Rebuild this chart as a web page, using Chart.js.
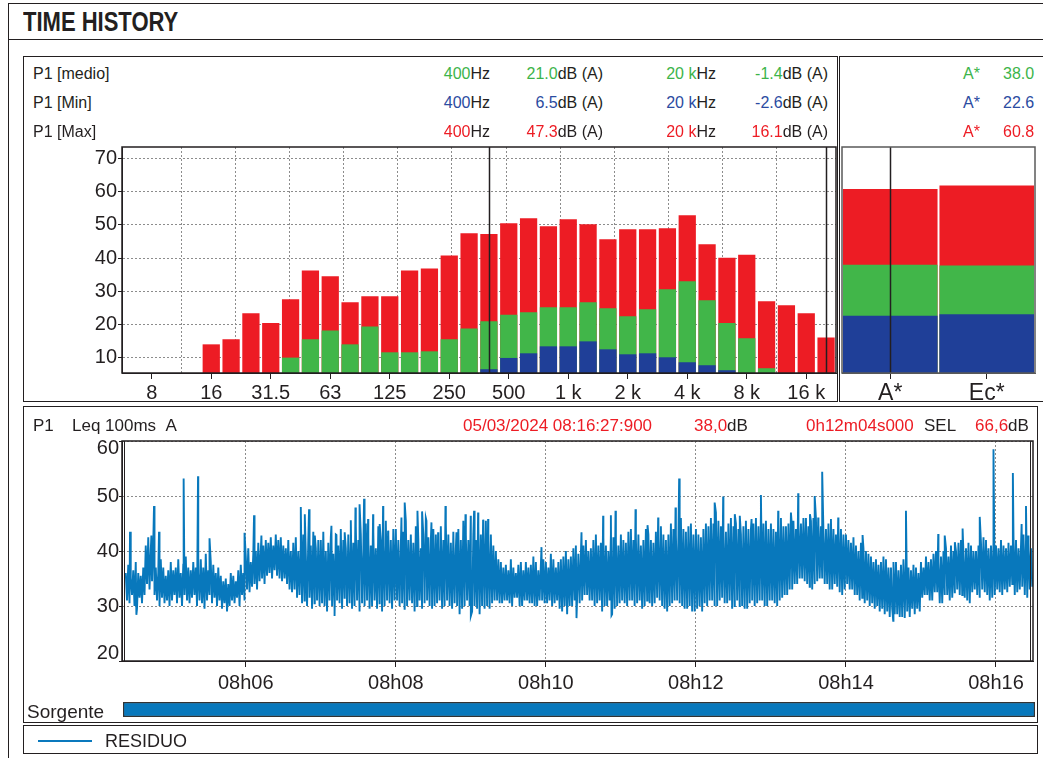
<!DOCTYPE html>
<html>
<head>
<meta charset="utf-8">
<title>Time history</title>
<script src="https://cdn.jsdelivr.net/npm/chart.js@4.4.1/dist/chart.umd.min.js"></script>
<style>
  body { margin: 0; background: #fff; }
  #page { position: relative; width: 1043px; height: 758px; overflow: hidden;
          font-family: "Liberation Sans", Arial, sans-serif; color: #231f20; }
  .box { position: absolute; border: 1px solid #231f20; box-sizing: border-box; }
  .txt { position: absolute; white-space: nowrap; line-height: 1; font-size: 16px; }
  canvas { position: absolute; }
  .g { color: #3cb44a; }
  .b { color: #2b4ba1; }
  .m { color: #ed1c24; }
</style>
</head>
<body>
<div id="page">
  <div class="box" style="left:8px;top:3px;width:1100px;height:800px;border-width:1.5px"></div>
  <div class="box" style="left:8px;top:39px;width:1100px;height:0;border-width:1px 0 0 0"></div>
  <div class="txt" style="left:23px;top:9px;font-weight:bold;font-size:27px;transform:scaleX(0.815);transform-origin:0 0">TIME HISTORY</div>

  <div class="box" style="left:23px;top:56px;width:815px;height:346px"></div>
  <div class="box" style="left:839px;top:56px;width:220px;height:346px"></div>
  <div class="box" style="left:23px;top:406px;width:1015px;height:317px"></div>
  <div class="box" style="left:23px;top:725px;width:1015px;height:29px"></div>

  <canvas id="spectrum" width="800" height="274" style="left:40px;top:134px"></canvas>
  <canvas id="bands" width="207" height="268" style="left:836px;top:140px"></canvas>
  <canvas id="history" width="1000" height="274" style="left:40px;top:426px"></canvas>
  <canvas id="source" width="1000" height="19" style="left:40px;top:700px"></canvas>

  <div class="txt" style="left:33px;top:417px;font-size:17px">P1</div>
  <div class="txt" style="left:72px;top:417px;font-size:17px">Leq 100ms&nbsp;&nbsp;A</div>
  <div class="txt m" style="left:463px;top:417px;font-size:17px">05/03/2024 08:16:27:900</div>
  <div class="txt" style="left:694px;top:417px;font-size:17px"><span class="m">38,0</span>dB</div>
  <div class="txt m" style="left:806px;top:417px;font-size:17px">0h12m04s000</div>
  <div class="txt" style="left:924px;top:417px;font-size:17px">SEL</div>
  <div class="txt" style="left:975px;top:417px;font-size:17px"><span class="m">66,6</span>dB</div>

  <div class="txt" style="left:27px;top:702px;font-size:19px">Sorgente</div>
  <div style="position:absolute;left:38px;top:740px;width:54px;height:2px;background:#0a79bd"></div>
  <div class="txt" style="left:105px;top:732px;font-size:18px">RESIDUO</div>
</div>

<script>
// 1/3 octave bands, 6.3 Hz .. 20 kHz
var bandFreqs = ['6.3', '8', '10', '12.5', '16', '20', '25', '31.5', '40', '50', '63', '80',
    '100', '125', '160', '200', '250', '315', '400', '500', '630', '800', '1 k', '1.25 k',
    '1.6 k', '2 k', '2.5 k', '3.15 k', '4 k', '5 k', '6.3 k', '8 k', '10 k', '12.5 k', '16 k', '20 k'];
var shownFreqs = ['8', '16', '31.5', '63', '125', '250', '500', '1 k', '2 k', '4 k', '8 k', '16 k'];

var specMax = [null, null, null, null, 14.0, 15.5, 23.4, 20.4, 27.6, 36.3, 34.5, 26.7,
    28.5, 28.5, 36.3, 36.9, 40.8, 47.5, 47.3, 50.5, 52.0, 49.6, 51.7, 50.2,
    45.7, 48.7, 48.7, 49.0, 52.9, 44.2, 40.1, 41.0, 27.0, 25.8, 23.4, 16.1];
var specMedio = [null, null, null, null, null, null, null, null, 10.0, 15.5, 18.2, 14.0,
    19.4, 11.6, 11.6, 11.9, 15.5, 18.8, 21.0, 22.9, 23.7, 25.2, 25.2, 26.7,
    24.9, 22.5, 24.6, 30.6, 33.0, 27.3, 20.4, 15.8, 6.8, null, null, -1.4];
var specMin = [null, null, null, null, null, null, null, null, null, null, null, null,
    null, null, null, null, null, null, 6.5, 9.9, 11.3, 13.4, 13.4, 14.9,
    12.5, 11.0, 11.3, 10.1, 8.6, 7.7, 6.2, null, null, null, null, -2.6];

var specYTicks = [10, 20, 30, 40, 50, 60, 70];
var octaveEdges = [2.5, 5.5, 8.5, 11.5, 14.5, 17.5, 20.5, 23.5, 26.5, 29.5, 32.5];

// global weighted values
var totalNames = ['A*', 'Ec*'];
var totalMax = [60.8, 61.9];
var totalMedio = [38.0, 37.8];
var totalMin = [22.6, 23.1];

// Leq 100ms history, seconds after 08:00:00; upper / lower reading every 2 s
var leqStart = 264;
var leqStep = 2;
var leqHigh = [
    // 08h04m24 ..
    36, 37.5, 35, 36.5, 38, 36, 35.5, 37, 41, 42.5, 40, 41.5, 37, 36, 38.5, 37, 35.5, 36.5,
    // 08h05
    38, 36.5, 37, 38.5, 36, 37.5, 39, 37, 36.5, 38, 37, 36, 38.5, 37, 39.5,
    36.5, 38, 37.5, 36, 37, 35.5, 34.5, 35, 34, 36, 35.5, 34.5, 36.5, 37.5, 36,
    // 08h06
    39, 40.5, 38, 39.5, 40, 41.5, 40, 41, 42, 41.5, 42.5, 41, 43, 42, 42.5,
    41, 40.5, 42, 40, 41.5, 42.5, 40, 41, 43, 39.5, 42, 41, 43.5, 40.5, 42,
    // 08h07
    42, 43.5, 40, 41.5, 42.5, 39.5, 43, 41, 44, 42, 40.5, 43, 42, 41.5, 44.5,
    42, 43, 40, 45, 42.5, 41, 43.5, 40.5, 44.5, 42, 41, 45.5, 43, 42, 44,
    // 08h08
    44, 42, 41, 43.5, 45.5, 42, 43, 41.5, 44.5, 42, 40.5, 43, 46, 42.5, 42,
    44, 43, 41, 44.5, 42, 45, 43, 41.5, 43.5, 40.5, 44, 42, 45.5, 43, 42,
    // 08h09
    45, 43, 42, 44.5, 43, 44, 45.5, 42, 43, 41, 40, 38.5, 38, 37, 37.5,
    36.5, 38.5, 37, 36, 37.5, 38, 36.5, 38, 37, 37.5, 39, 38, 36.5, 37.5, 38.5,
    // 08h10
    38, 37, 39.5, 38.5, 37, 38, 38.5, 39, 40, 38.5, 39, 40.5, 41, 39.5, 39.5,
    41, 42, 40, 40.5, 42, 43, 41, 41.5, 42.5, 41, 40, 43, 42.5, 42, 41,
    // 08h11
    43, 42, 41.5, 43.5, 44, 42, 42.5, 43, 41, 42, 44, 43, 42, 41.5, 43.5,
    42.5, 44.5, 43, 42, 43, 45, 44, 43, 42.5, 46, 44, 43.5, 44.5, 45, 43,
    // 08h12
    44, 43, 42.5, 44, 45, 44.5, 46, 45, 47, 45.5, 44.5, 43.5, 43.5, 45, 46,
    44.5, 45, 44, 43, 44.5, 45.5, 44, 44, 45, 46, 44.5, 47, 45, 45.5, 44,
    // 08h13
    45, 44, 43.5, 45, 46, 44.5, 44.5, 45, 47, 45.5, 44, 45, 45, 46, 46,
    44.5, 45.5, 46, 46, 45, 44.5, 43.5, 44, 45, 45, 44, 43, 44.5, 44, 43,
    // 08h14
    43, 42, 41.5, 42.5, 41, 40, 41.5, 40.5, 40, 39.5, 39, 38, 38.5, 37.5, 38,
    39, 38.5, 37, 37, 38, 38, 36.5, 37.5, 38.5, 38.5, 37, 36.5, 37.5, 37, 36,
    // 08h15
    38, 37, 39, 38, 38.5, 39.5, 40, 38, 39, 40, 40.5, 39, 41, 40, 40,
    41.5, 42, 39.5, 40.5, 41.5, 41, 40, 40, 41, 41.5, 42.5, 42, 40.5, 41, 41.5,
    // 08h16
    41, 40.5, 42, 41, 40.5, 41.5, 41, 42.5, 42, 40.5, 41, 43, 42, 41.5, 40.5
];
var leqLow = [
    // 08h04m24 ..
    31, 30.5, 32, 30, 29.5, 31.5, 30.5, 32, 34, 33, 34.5, 32, 31, 30, 31.5, 30.5, 31, 30,
    // 08h05
    31, 32, 30.5, 31.5, 30, 32, 31, 30.5, 31.5, 32, 30, 31, 30.5, 29.5, 31,
    32, 30.5, 31.5, 30, 31, 29.5, 30.5, 29, 30, 31, 30.5, 31.5, 30, 32, 31,
    // 08h06
    33, 32.5, 33.5, 34, 33, 34.5, 35, 34, 35.5, 36, 35, 36.5, 35.5, 35, 34.5,
    35, 34, 33, 32.5, 33, 31.5, 32, 30.5, 31, 30, 31.5, 29.5, 30.5, 31, 30,
    // 08h07
    30.5, 30, 29, 31, 30, 29.5, 31, 30.5, 29.5, 31.5, 30, 30.5, 29.5, 30, 31,
    29, 30.5, 30, 31, 29.5, 30, 31, 29.5, 30.5, 29, 30, 31, 30.5, 29.5, 31,
    // 08h08
    31, 30, 30.5, 29.5, 30, 31, 30.5, 29, 30, 31, 29.5, 30.5, 31, 30, 29.5,
    30, 30.5, 31, 29.5, 30, 31, 30, 29.5, 30.5, 30, 28.5, 29.5, 30, 31, 30,
    // 08h09
    29, 30, 29.5, 28.5, 30, 29.5, 30, 29.5, 30.5, 31, 31, 30.5, 30.5, 31, 31,
    30.5, 30, 31.5, 31.5, 30, 30, 31, 31, 30.5, 30.5, 30, 30, 31, 31, 30.5,
    // 08h10
    30.5, 31, 30, 30.5, 31, 29.5, 29, 30, 28.5, 30, 30, 31, 31.5, 30.5, 31,
    32, 32, 31, 31, 30, 30.5, 31, 29, 30, 30, 31, 28.5, 29.5, 30, 30.5,
    // 08h11
    31, 30.5, 30, 31, 31, 30, 30.5, 31, 29.5, 30, 31, 30.5, 30, 30.5, 31.5,
    31, 30, 29.5, 29, 30, 30.5, 31, 31, 30.5, 30, 29.5, 29.5, 30, 29, 29.5,
    // 08h12
    29.5, 30, 29, 30.5, 30, 31, 31, 30, 30, 31, 31.5, 30.5, 30.5, 31, 29.5,
    30, 31, 30, 30, 29.5, 29.5, 30.5, 31, 30, 30.5, 31, 31, 30, 30, 31,
    // 08h13
    31, 30.5, 30, 31, 31.5, 32, 32, 33, 33, 34, 34, 35, 35, 34.5, 34,
    33.5, 33, 34, 34.5, 35, 35, 34, 34, 33, 33, 34, 33.5, 32.5, 32, 33,
    // 08h14
    34, 33, 33, 32, 32, 31, 31.5, 30.5, 31, 30, 30.5, 29.5, 30, 29, 29.5,
    28.5, 29, 28, 29.5, 28.5, 28.5, 28, 28, 29, 29, 28, 29.5, 28.5, 29.5, 29,
    // 08h15
    31.5, 32, 32, 31, 31, 32.5, 32.5, 30.5, 30.5, 32, 32, 31, 31.5, 32.5, 33,
    32, 32, 31.5, 31, 30.5, 32.5, 33, 32, 31.5, 33, 32.5, 32, 31, 31.5, 32,
    // 08h16
    33, 32.5, 32, 33, 32.5, 33.5, 34, 32, 32.5, 33, 33.5, 32, 31.5, 33, 33.5
];
var leqPeaks = [
    [267.4, 43.5], [284.5, 42.8], [286.6, 48.2], [290.6, 43.5], [310.3, 53.2], [321.8, 53.6],
    [331, 42.3], [359, 43.3], [366.6, 46.5], [372.5, 42.8], [404, 48], [407.2, 46.7],
    [410.6, 47.6], [415.2, 42.8], [428.5, 44.6], [432.5, 42.9], [439.1, 43.4], [444, 45.6],
    [447.7, 47.9], [451, 48.5], [454.6, 49.5], [457.8, 45.8], [461.8, 46.7], [467.1, 44.9],
    [469.8, 48.2], [473.8, 43.7], [484.5, 46.1], [487.1, 48.8], [497.3, 47.3], [501, 47.2],
    [504.5, 45.5], [508.5, 45.2], [513.8, 43.4], [519.7, 48.2], [528.5, 43.4], [535.7, 46.7],
    [539.9, 46.4], [542.6, 47.3], [545.8, 47], [549.8, 45.7], [553.8, 45.8], [596.5, 40.7],
    [628.5, 43.4], [645.8, 46.4], [652, 46.5], [655.7, 47.3], [671.7, 47.6], [681.3, 44.7],
    [689.8, 46.1], [703.7, 47.9], [706.6, 53.2], [735, 48.8], [741.8, 49.9], [751.1, 46.7],
    [755.1, 46.4], [764.5, 45.8], [772, 50.2], [785.8, 47.3], [796.5, 45.3], [801.8, 50.5],
    [811.2, 46.7], [815, 50], [817.8, 46.1], [821, 54.4], [828, 45.8], [833.8, 46.1],
    [853.3, 42.9], [888, 47.3], [913.8, 43.1], [919, 42.8], [927.1, 41.6], [933.3, 44.1],
    [947, 46.2], [958, 58.5], [973.5, 54.2], [980.5, 44.9], [984, 48.2], [985.8, 42.8]
];
var leqDips = [
    [272.5, 28.4], [431, 28.2], [540, 28.2], [624.5, 27.8], [652.5, 28.3], [719, 29],
    [877.8, 27.3], [887, 27.8]
];
var timeTicks = [360, 480, 600, 720, 840, 960];
var timeYTicks = [20, 30, 40, 50, 60];
var timeRange = [261, 989.6];

var RED = '#ed1c24';
var GREEN = '#41b649';
var BLUE = '#1f3f98';
var LINE = '#0878bc';
var INK = '#231f20';

Chart.defaults.font.family = "'Liberation Sans', Arial, sans-serif";
Chart.defaults.color = INK;

/*
############################## Header texts ##############################
*/
var page = document.getElementById('page');

function put(html, side, x, top, size) {
    var el = document.createElement('div');
    el.className = 'txt';
    el.innerHTML = html;
    el.style.top = top + 'px';
    if (size) el.style.fontSize = size + 'px';
    if (side === 'right') el.style.right = (1043 - x) + 'px';
    else el.style.left = x + 'px';
    page.appendChild(el);
}

var cursorA = 18, cursorB = 35;
var headerRows = [
    { name: 'P1 [medio]', cls: 'g', data: specMedio, total: totalMedio },
    { name: 'P1 [Min]', cls: 'b', data: specMin, total: totalMin },
    { name: 'P1 [Max]', cls: 'm', data: specMax, total: totalMax }
];
headerRows.forEach((row, k) => {
    let top = 66 + k * 29;
    put(row.name, 'left', 33, top);
    put('<span class="' + row.cls + '">' + bandFreqs[cursorA] + '</span>Hz', 'right', 490, top);
    put('<span class="' + row.cls + '">' + row.data[cursorA].toFixed(1) + '</span>dB (A)', 'right', 603, top);
    put('<span class="' + row.cls + '">' + bandFreqs[cursorB] + '</span>Hz', 'right', 716, top);
    put('<span class="' + row.cls + '">' + row.data[cursorB].toFixed(1) + '</span>dB (A)', 'right', 828, top);
    put('<span class="' + row.cls + '">' + totalNames[0] + '</span>', 'right', 980, top);
    put('<span class="' + row.cls + '">' + row.total[0].toFixed(1) + '</span>', 'left', 1003, top);
});

/*
############################## Plugins ##############################
*/
var framePlugin = {
    id: 'frame',
    afterDraw(chart, args, opts) {
        let ctx = chart.ctx;
        let a = chart.chartArea;
        ctx.save();
        (opts.cursors || []).forEach(i => {
            let x = Math.round(chart.scales.x.getPixelForValue(i)) + 0.5;
            ctx.strokeStyle = INK;
            ctx.lineWidth = 1.5;
            ctx.beginPath();
            ctx.moveTo(x, a.top);
            ctx.lineTo(x, a.bottom);
            ctx.stroke();
        });
        ctx.strokeStyle = opts.color || INK;
        ctx.lineWidth = opts.width || 1.5;
        ctx.strokeRect(a.left, a.top, a.right - a.left, a.bottom - a.top);
        if (opts.double) {
            ctx.lineWidth = 1;
            ctx.beginPath();
            ctx.moveTo(a.left + 2.5, a.top);
            ctx.lineTo(a.left + 2.5, a.bottom);
            ctx.moveTo(a.right - 2.5, a.top);
            ctx.lineTo(a.right - 2.5, a.bottom);
            ctx.stroke();
        }
        ctx.restore();
    }
};

function barSets(minData, medioData, maxData) {
    return [
        { label: 'Min', data: minData, backgroundColor: BLUE, clip: 0 },
        { label: 'medio', data: medioData, backgroundColor: GREEN, clip: 0 },
        { label: 'Max', data: maxData, backgroundColor: RED, clip: 0 }
    ];
}

/*
############################## Spectrum ##############################
*/
function draw_spectrum() {
    return new Chart(document.getElementById('spectrum'), {
        type: 'bar',
        data: { labels: bandFreqs, datasets: barSets(specMin, specMedio, specMax) },
        options: {
            responsive: false,
            animation: false,
            devicePixelRatio: 1,
            layout: { padding: { top: 0, right: 4, left: 0, bottom: 0 } },
            datasets: { bar: { categoryPercentage: 1, barPercentage: 0.87 } },
            plugins: {
                legend: { display: false },
                tooltip: { enabled: false },
                frame: { cursors: [cursorA, cursorB] }
            },
            scales: {
                x: {
                    stacked: true,
                    afterBuildTicks: s => { s.ticks = s.ticks.filter(t => shownFreqs.includes(bandFreqs[t.value])); },
                    ticks: { autoSkip: false, maxRotation: 0, font: { size: 20 }, padding: 2 },
                    grid: { drawOnChartArea: false, offset: false, tickLength: 6, color: INK },
                    border: { color: INK },
                    afterFit: s => { s.height = 35; }
                },
                xg: {
                    type: 'linear',
                    position: 'bottom',
                    min: -0.5,
                    max: 35.5,
                    afterBuildTicks: s => { s.ticks = octaveEdges.map(v => ({ value: v })); },
                    ticks: { display: false },
                    grid: { color: '#8c8c8c', drawTicks: false },
                    border: { display: false, dash: [2, 2] },
                    afterFit: s => { s.height = 0; }
                },
                y: {
                    min: 5.36,
                    max: 73.5,
                    afterBuildTicks: s => { s.ticks = specYTicks.map(v => ({ value: v })); },
                    ticks: { font: { size: 20 }, padding: 1 },
                    grid: { color: '#8c8c8c', tickColor: INK, tickLength: 4 },
                    border: { color: INK, dash: [2, 2] },
                    afterFit: s => { s.width = 82; }
                }
            }
        },
        plugins: [framePlugin]
    });
}

function draw_totals() {
    return new Chart(document.getElementById('bands'), {
        type: 'bar',
        data: { labels: totalNames, datasets: barSets(totalMin, totalMedio, totalMax) },
        options: {
            responsive: false,
            animation: false,
            devicePixelRatio: 1,
            layout: { padding: { top: 7, right: 8, left: 6, bottom: 0 } },
            datasets: { bar: { categoryPercentage: 1, barPercentage: 0.98 } },
            plugins: {
                legend: { display: false },
                tooltip: { enabled: false },
                frame: { cursors: [0], color: '#5a5a5a' }
            },
            scales: {
                x: {
                    stacked: true,
                    ticks: { font: { size: 23 }, padding: 1, maxRotation: 0 },
                    grid: { drawOnChartArea: false, offset: false, tickLength: 6, color: INK },
                    border: { color: '#5a5a5a' },
                    afterFit: s => { s.height = 35; }
                },
                y: { display: false, min: 5.36, max: 73.5 }
            }
        },
        plugins: [framePlugin]
    });
}

/*
############################## Time history ##############################
*/
function clock_label(sec) {
    let m = Math.floor(sec / 60);
    return '08h' + String(m).padStart(2, '0');
}

function draw_history() {
    let points = [];
    leqHigh.forEach((v, i) => {
        let t = leqStart + i * leqStep;
        points.push({ x: t, y: v });
        if (leqLow[i] !== undefined) points.push({ x: t + leqStep / 2, y: leqLow[i] });
    });
    leqPeaks.concat(leqDips).forEach(p => points.push({ x: p[0], y: p[1] }));
    points.sort((a, b) => a.x - b.x);

    return new Chart(document.getElementById('history'), {
        type: 'line',
        data: {
            datasets: [{
                label: 'RESIDUO',
                data: points,
                borderColor: LINE,
                borderWidth: 1.9,
                pointRadius: 0,
                tension: 0
            }]
        },
        options: {
            responsive: false,
            animation: false,
            devicePixelRatio: 1,
            layout: { padding: { top: 0, right: 7, left: 0, bottom: 0 } },
            plugins: {
                legend: { display: false },
                tooltip: { enabled: false },
                frame: { double: true }
            },
            scales: {
                x: {
                    type: 'linear',
                    min: timeRange[0],
                    max: timeRange[1],
                    afterBuildTicks: s => { s.ticks = timeTicks.map(v => ({ value: v })); },
                    ticks: { callback: v => clock_label(v), font: { size: 20 }, padding: 4, maxRotation: 0, autoSkip: false },
                    grid: { color: '#8c8c8c', tickColor: INK, tickLength: 6 },
                    border: { color: INK, dash: [2, 2] },
                    afterFit: s => { s.height = 39; }
                },
                y: {
                    min: 20,
                    max: 60,
                    afterBuildTicks: s => { s.ticks = timeYTicks.map(v => ({ value: v })); },
                    ticks: {
                        callback: v => v === 60 ? ['', '60'] : v === 20 ? ['20', ''] : String(v),
                        font: { size: 20, lineHeight: 0.75 },
                        padding: 0
                    },
                    grid: { color: '#8c8c8c', tickColor: INK, tickLength: 3 },
                    border: { color: INK, dash: [2, 2] },
                    afterFit: s => { s.width = 82; }
                }
            }
        },
        plugins: [framePlugin]
    });
}

function draw_source() {
    return new Chart(document.getElementById('source'), {
        type: 'bar',
        data: {
            labels: ['Sorgente'],
            datasets: [{
                data: [timeRange],
                backgroundColor: LINE,
                borderColor: '#333',
                borderWidth: 1.5,
                borderSkipped: false
            }]
        },
        options: {
            indexAxis: 'y',
            responsive: false,
            animation: false,
            devicePixelRatio: 1,
            layout: { padding: { top: 2, bottom: 2, left: 83, right: 5 } },
            datasets: { bar: { categoryPercentage: 1, barPercentage: 1 } },
            plugins: { legend: { display: false }, tooltip: { enabled: false } },
            scales: {
                x: { display: false, type: 'linear', min: timeRange[0], max: timeRange[1] },
                y: { display: false }
            }
        }
    });
}

function draw_all_graphs() {
    draw_spectrum();
    draw_totals();
    draw_history();
    draw_source();
}

draw_all_graphs();
</script>
</body>
</html>
